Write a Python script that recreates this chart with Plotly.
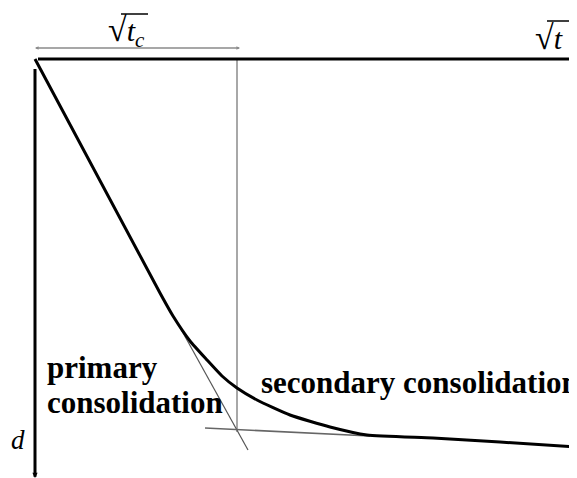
import plotly.graph_objects as go

# Settlement curve (sketch units: x grows right, depth d grows downward)
curve_x = [35, 160, 173, 190, 207, 222, 237, 257, 290, 330, 367, 433, 500, 577]
curve_y = [59, 293, 316, 341, 360, 376, 388, 400, 415, 427, 435, 438, 442, 447]

# Tangent to the primary branch and asymptote of the secondary branch
tangent_x = [177, 248]
tangent_y = [322, 450]
secondary_x = [205, 370]
secondary_y = [428, 436]

# sqrt(t_c) marker
tc_x = 237
tc_bottom = 432
axis_origin = (35, 59)
axis_end_x = 577
axis_end_y = 478

FONT_TXT = "Liberation Serif"
PAGE_MARGIN = 8  # default body margin of the html page


def create_consolidation_chart():
    """
    Sketch of the sqrt(t) method: settlement d versus sqrt(t).
    """
    fig = go.Figure()

    # primary / secondary guide lines
    fig.add_trace(go.Scatter(x=[tc_x, tc_x], y=[axis_origin[1], tc_bottom], mode="lines",
                             line=dict(color="#a8a8a8", width=2), hoverinfo="skip"))
    fig.add_trace(go.Scatter(x=tangent_x, y=tangent_y, mode="lines",
                             line=dict(color="#555555", width=1.2), hoverinfo="skip"))
    fig.add_trace(go.Scatter(x=secondary_x, y=secondary_y, mode="lines",
                             line=dict(color="#666666", width=1.5), hoverinfo="skip"))

    # settlement curve
    fig.add_trace(go.Scatter(x=curve_x, y=curve_y, mode="lines",
                             line=dict(color="black", width=3, shape="spline", smoothing=0.5),
                             hoverinfo="skip"))

    # axes drawn as arrows
    x0, y0 = axis_origin
    for (xe, ye) in [(axis_end_x, y0), (x0, axis_end_y)]:
        fig.add_annotation(x=xe, y=ye, ax=x0, ay=y0, xref="x", yref="y", axref="x", ayref="y",
                           showarrow=True, arrowhead=2, arrowsize=0.35, arrowwidth=3,
                           arrowcolor="black", text=" ")

    # dimension line for sqrt(t_c)
    fig.add_annotation(x=tc_x + 3, y=48, ax=x0 - 3, ay=48, xref="x", yref="y", axref="x", ayref="y",
                       showarrow=True, arrowhead=2, arrowside="end+start", arrowsize=0.55,
                       arrowwidth=1.3, arrowcolor="#8a8a8a", text=" ")

    # radical labels
    labels = [
        dict(x=106, y=31, text="<span style='font-size:34px'>√</span><i>t<sub>c</sub></i>",
             bar=(121, 148, 14), size=30),
        dict(x=533, y=37, text="<span style='font-size:34px'>√</span><i>t</i>",
             bar=(547, 577, 21), size=30),
    ]
    for lab in labels:
        fig.add_annotation(x=lab["x"], y=lab["y"], xref="x", yref="y", text=lab["text"],
                           showarrow=False, xanchor="left", yanchor="middle",
                           font=dict(family=FONT_TXT, size=lab["size"], color="black"))
        bx0, bx1, by = lab["bar"]
        fig.add_shape(type="line", x0=bx0, x1=bx1, y0=by, y1=by, xref="x", yref="y",
                      line=dict(color="black", width=1.5))

    fig.add_annotation(x=18, y=440, xref="x", yref="y", text="<i>d</i>", showarrow=False,
                       font=dict(family=FONT_TXT, size=27, color="black"))

    # region labels
    for txt, lx, ly in [("primary", 45, 367), ("consolidation", 45, 402),
                        ("secondary consolidation", 259, 382)]:
        fig.add_annotation(x=lx, y=ly, xref="x", yref="y", text="<b>" + txt + "</b>",
                           showarrow=False, xanchor="left", yanchor="middle",
                           font=dict(family=FONT_TXT, size=31, color="black"))

    # the page body adds an 8px margin, so shift the ranges to keep window pixels aligned
    fig.update_layout(
        width=577 - PAGE_MARGIN, height=478 - PAGE_MARGIN,
        margin=dict(l=0, r=0, t=0, b=0),
        paper_bgcolor="white", plot_bgcolor="white",
        showlegend=False,
        xaxis=dict(range=[PAGE_MARGIN, 577], visible=False, fixedrange=True),
        yaxis=dict(range=[478, PAGE_MARGIN], visible=False, fixedrange=True),
    )
    return fig


fig = create_consolidation_chart()
fig.write_html("out.html")
